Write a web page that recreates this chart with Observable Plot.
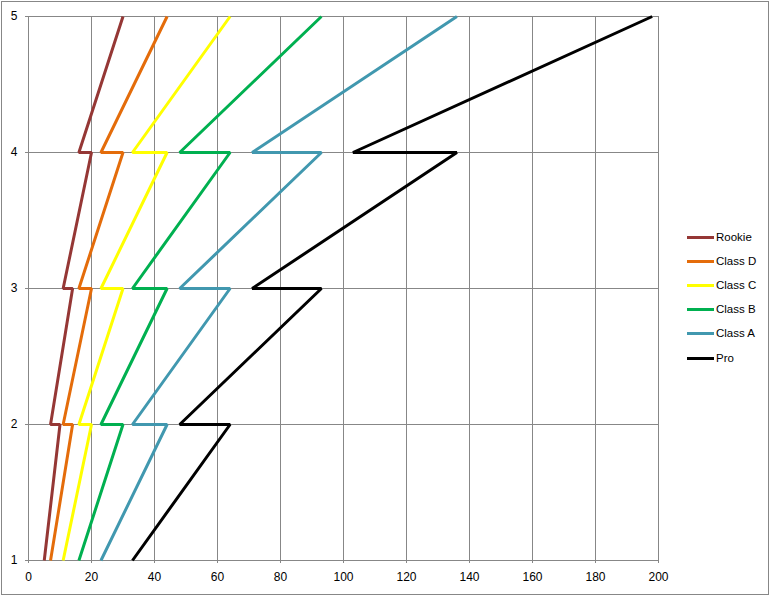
<!DOCTYPE html>
<html><head><meta charset="utf-8">
<script src="https://cdn.jsdelivr.net/npm/d3@7"></script>
<script src="https://cdn.jsdelivr.net/npm/@observablehq/plot@0.6"></script>
<style>
body{margin:0;background:#fff;}
#wrap{position:relative;width:770px;height:596px;font-family:"Liberation Sans",Arial,sans-serif;overflow:hidden;}
#border{position:absolute;left:1px;top:1px;width:768px;height:594px;border:1px solid #878787;box-sizing:border-box;pointer-events:none;}
#chart{position:absolute;left:0;top:0;}
#legend{position:absolute;left:687px;top:230px;}
.item{position:absolute;left:0;height:14px;white-space:nowrap;}
.swatch{position:absolute;left:0;top:6px;width:27px;height:3px;}
.label{position:absolute;left:29px;top:0;font-size:11.5px;line-height:14px;color:#000;}
</style></head>
<body>
<div id="wrap"><div id="chart"></div><div id="legend"></div><div id="border"></div></div>
<script>
const series = ["Rookie","Class D","Class C","Class B","Class A","Pro"];
const colors = ["#953735","#E46C0A","#FFFF00","#00B050","#4198AF","#000000"];
const levels = [1,2,2,3,3,4,4,5];
const rookie = [5,10,7,14,11,20,16,30];
const classD = [7,14,11,20,16,30,23,44];
const classC = [11,20,16,30,23,44,33,64];
const classB = [16,30,23,44,33,64,48,93];
const classA = [23,44,33,64,48,93,71,136];
const pro    = [33,64,48,93,71,136,103,198];
const xTicks = [0,20,40,60,80,100,120,140,160,180,200];
const yTicks = [1,2,3,4,5];

const values = [rookie, classD, classC, classB, classA, pro];
const rows = [];
values.forEach((arr, i) => arr.forEach((v, j) => rows.push({series: series[i], x: v, y: levels[j]})));

const grid = "#878787";
const plot = Plot.plot({
  width: 770, height: 596,
  marginLeft: 28, marginTop: 16, marginBottom: 36, marginRight: 112,
  style: {fontFamily: '"Liberation Sans", Arial, sans-serif', fontSize: "12px", color: "#000", background: "transparent"},
  x: {domain: [0, 200], ticks: xTicks, label: null},
  y: {domain: [1, 5], ticks: yTicks, label: null},
  color: {domain: series, range: colors},
  marks: [
    Plot.gridX(xTicks, {stroke: grid, strokeOpacity: 1, strokeWidth: 1}),
    Plot.gridY(yTicks, {stroke: grid, strokeOpacity: 1, strokeWidth: 1}),
    Plot.axisX(xTicks, {tickSize: 3, tickPadding: 9, stroke: grid, fill: "#000", label: null, tickFormat: d => String(d)}),
    Plot.axisY(yTicks, {tickSize: 3, tickPadding: 8, stroke: grid, fill: "#000", label: null, tickFormat: d => String(d)}),
    Plot.line(rows, {x: "x", y: "y", z: "series", stroke: "series", strokeWidth: 3, strokeLinejoin: "miter", strokeLinecap: "butt"})
  ]
});
document.getElementById("chart").appendChild(plot);

const legend = document.getElementById("legend");
series.forEach((s, i) => {
  const it = document.createElement("div");
  it.className = "item";
  it.style.top = (i * 24.1) + "px";
  const sw = document.createElement("div");
  sw.className = "swatch";
  sw.style.background = colors[i];
  const lb = document.createElement("div");
  lb.className = "label";
  lb.textContent = s;
  it.appendChild(sw); it.appendChild(lb);
  legend.appendChild(it);
});
</script>
</body></html>
